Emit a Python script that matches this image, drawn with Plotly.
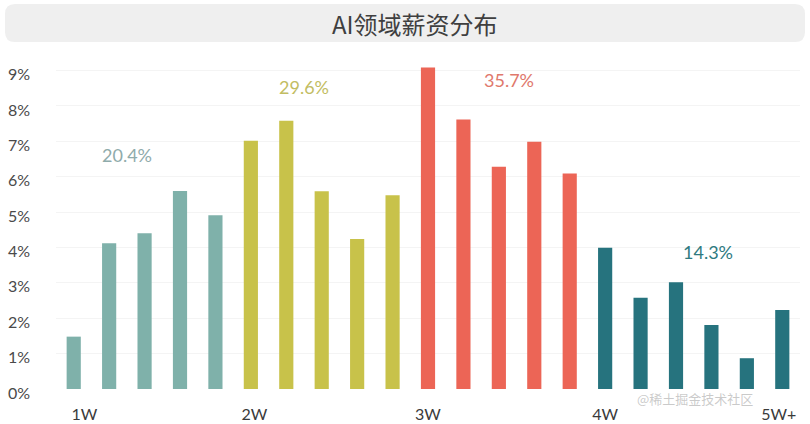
import plotly.graph_objects as go

# ---- data ----
groups = ["1W", "2W", "3W", "4W", "5W+"]
group_colors = ["#7fb1aa", "#c8c24a", "#ec6556", "#26737e"]
teal_vals = [1.48, 4.12, 4.40, 5.60, 4.91]
yellow_vals = [7.02, 7.58, 5.59, 4.24, 5.48]
red_vals = [9.09, 7.62, 6.28, 6.99, 6.09]
dark_vals = [3.99, 2.58, 3.02, 1.81, 0.87, 2.23]
group_totals = ["20.4%", "29.6%", "35.7%", "14.3%"]
total_colors = ["#8fabab", "#c2bd62", "#e0786c", "#2e7a80"]
y_ticks = [0, 1, 2, 3, 4, 5, 6, 7, 8, 9]
y_tick_text = [f"{v}%" for v in y_ticks]

series = [teal_vals, yellow_vals, red_vals, dark_vals]

fig = go.Figure()
start = 0
for vals, col in zip(series, group_colors):
    xs = list(range(start, start + len(vals)))
    fig.add_trace(go.Bar(x=xs, y=vals, marker=dict(color=col, line=dict(width=0)),
                         width=0.4, showlegend=False, hoverinfo="y"))
    start += len(vals)

# label positions (group-total texts)
total_pos = [(1.5, 6.61), (6.5, 8.54), (12.3, 8.73), (17.9, 3.88)]
for (tx, ty), txt, c in zip(total_pos, group_totals, total_colors):
    fig.add_annotation(x=tx, y=ty, text=txt, showarrow=False,
                       xanchor="center", yanchor="middle",
                       font=dict(family="Lato, Open Sans, sans-serif", size=18, color=c))

W, H = 810, 424
ml, mr, mt, mb = 56, 10, 60, 35
pw, ph = W - ml - mr, H - mt - mb

def px_x(p):
    return (p - ml) / pw

def px_y(p):
    return (H - mb - p) / ph

# rounded title box
x0, x1, y0, y1 = px_x(5), px_x(805), px_y(4), px_y(42)
rx, ry = 10 / pw, 10 / ph
path = (f"M {x0+rx},{y0} L {x1-rx},{y0} Q {x1},{y0} {x1},{y0-ry} "
        f"L {x1},{y1+ry} Q {x1},{y1} {x1-rx},{y1} L {x0+rx},{y1} "
        f"Q {x0},{y1} {x0},{y1+ry} L {x0},{y0-ry} Q {x0},{y0} {x0+rx},{y0} Z")
fig.add_shape(type="path", path=path, xref="paper", yref="paper",
              fillcolor="#efefef", line=dict(width=0), layer="below")
fig.add_annotation(x=px_x(415), y=px_y(23), xref="paper", yref="paper",
                   xanchor="center", yanchor="middle",
                   text="AI领域薪资分布", showarrow=False,
                   font=dict(family="Noto Sans CJK SC, sans-serif", size=24, color="#3f3f3f"))

# watermark
fig.add_annotation(x=px_x(755), y=px_y(398), xref="paper", yref="paper",
                   xanchor="right", yanchor="middle",
                   text="@稀土掘金技术社区", showarrow=False,
                   font=dict(family="Noto Sans CJK SC, sans-serif", size=13, color="rgba(150,150,150,0.5)"))

fig.update_layout(
    width=W, height=H,
    margin=dict(l=ml, r=mr, t=mt, b=mb),
    paper_bgcolor="white", plot_bgcolor="white",
    bargap=0.6,
    xaxis=dict(range=[-0.5, 20.5], tickvals=[0.3, 5.1, 10, 15, 19.9], ticktext=groups,
               showgrid=False, zeroline=False, showline=False, automargin=False,
               ticks="", ticklabelstandoff=14,
               tickfont=dict(family="Lato, Open Sans, sans-serif", size=16, color="#3a3a3a")),
    yaxis=dict(range=[0, 9.3], tickvals=y_ticks, ticktext=y_tick_text,
               showgrid=True, gridcolor="#f4f4f4", gridwidth=1, automargin=False,
               zeroline=False, showline=False, ticks="",
               ticklabelstandoff=25, ticklabelshift=4,
               tickfont=dict(family="Lato, Open Sans, sans-serif", size=16, color="#4a4a4a")),
)

fig.write_html("out.html", config={"displayModeBar": False},
               post_script="document.body.style.margin='0';document.body.style.overflow='hidden';")
